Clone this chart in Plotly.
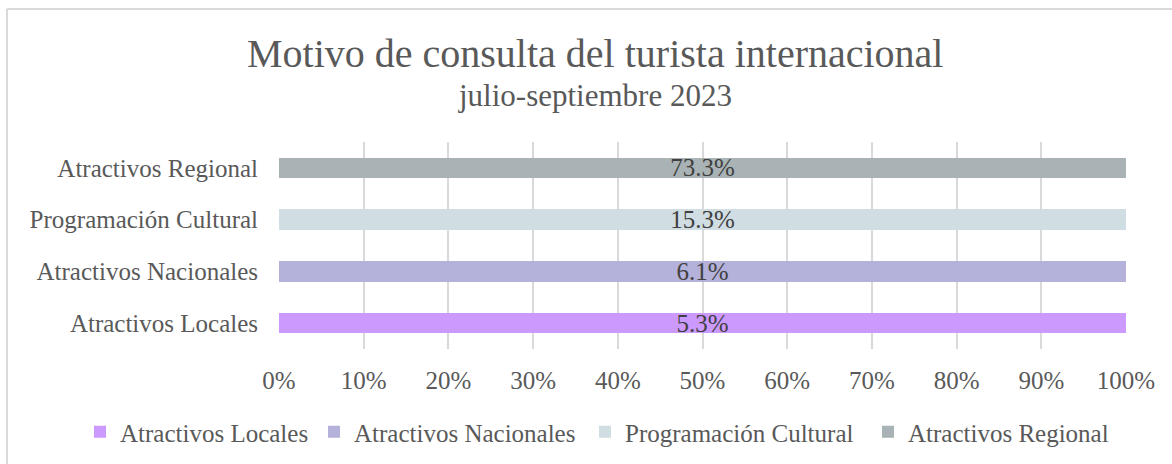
import plotly.graph_objects as go

categories = ["Atractivos Locales", "Atractivos Nacionales", "Programación Cultural", "Atractivos Regional"]
values = [5.3, 6.1, 15.3, 73.3]
colors = ["#CC99FF", "#B4B1DA", "#D0DDE2", "#A9B2B4"]
tick_vals = [0, 10, 20, 30, 40, 50, 60, 70, 80, 90, 100]

FONT = "Liberation Serif"
TXT = "#595959"

W, H = 1172, 464
L, R, T, B = 279, 46, 142, 115
pw = W - L - R
ph = H - T - B

def px_x(p):
    return (p - L) / pw

def px_y(p):
    return (H - B - p) / ph

# left pixel position of each legend entry (one legend box per series)
legend_left_px = [80, 314, 585, 868]
legend_ids = ["legend", "legend2", "legend3", "legend4"]

fig = go.Figure()
for cat, val, col, lid in zip(categories, values, colors, legend_ids):
    fig.add_trace(go.Bar(
        y=[cat], x=[val], name=cat, orientation="h", legend=lid,
        marker=dict(color=col, line=dict(width=0)),
        text=[f"{val:.1f}%"], textposition="inside", insidetextanchor="middle",
        constraintext="none",
        textfont=dict(family=FONT, size=25, color="#404040"),
        hoverinfo="skip",
    ))

legends = {}
for lid, lx in zip(legend_ids, legend_left_px):
    legends[lid] = dict(orientation="h", xref="container", yref="container",
                        x=lx / W, y=1 - 432 / H, xanchor="left", yanchor="middle",
                        font=dict(family=FONT, size=25, color=TXT),
                        itemwidth=30, bgcolor="rgba(0,0,0,0)")

fig.update_layout(
    width=W, height=H,
    margin=dict(l=L, r=R, t=T, b=B, autoexpand=False),
    paper_bgcolor="white", plot_bgcolor="white",
    barmode="stack", barnorm="percent", bargap=0.6,
    font=dict(family=FONT, size=25, color=TXT),
    showlegend=True,
    xaxis=dict(range=[0, 100], tickmode="array", tickvals=tick_vals,
               ticktext=[f"{v}%" for v in tick_vals],
               showgrid=True, gridcolor="#D9D9D9", gridwidth=2, zeroline=False,
               showline=False, ticks="outside", ticklen=9, tickcolor="rgba(0,0,0,0)",
               tickfont=dict(family=FONT, size=25, color=TXT), fixedrange=True),
    yaxis=dict(type="category", categoryorder="array", categoryarray=categories,
               showgrid=False, zeroline=False, showline=False,
               ticks="outside", ticklen=15, tickcolor="rgba(0,0,0,0)",
               tickfont=dict(family=FONT, size=25, color=TXT), fixedrange=True),
    annotations=[
        dict(text="Motivo de consulta del turista internacional", xref="paper", yref="paper",
             x=px_x(595), y=px_y(53), xanchor="center", yanchor="middle", showarrow=False,
             font=dict(family=FONT, size=40, color=TXT)),
        dict(text="julio-septiembre 2023", xref="paper", yref="paper",
             x=px_x(595), y=px_y(96), xanchor="center", yanchor="middle", showarrow=False,
             font=dict(family=FONT, size=31, color=TXT)),
    ],
    shapes=[
        dict(type="line", xref="paper", yref="paper", x0=px_x(7), x1=px_x(7), y0=px_y(9), y1=px_y(470),
             line=dict(color="#D9D9D9", width=2)),
        dict(type="line", xref="paper", yref="paper", x0=px_x(7), x1=px_x(1180), y0=px_y(9), y1=px_y(9),
             line=dict(color="#D9D9D9", width=2)),
    ],
    **legends,
)

fig.write_html("out.html", config={"displayModeBar": False},
               post_script="document.body.style.margin='0';")
